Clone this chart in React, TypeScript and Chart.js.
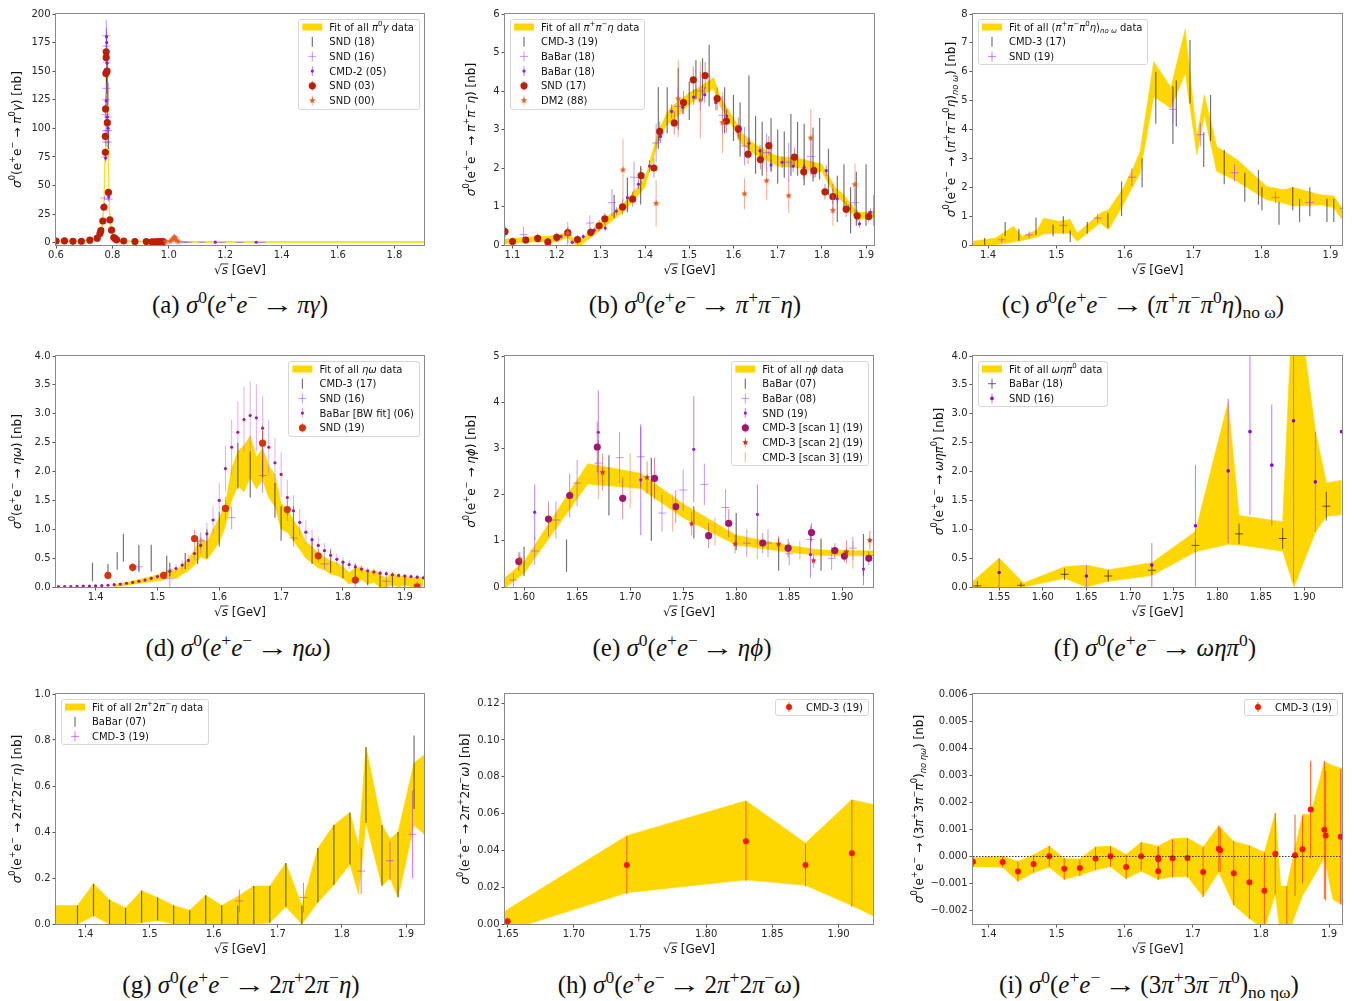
import React, { useEffect, useRef } from 'react';
import { Chart, registerables } from 'chart.js';

Chart.register(...registerables);

type Seg = [string, string];
type Pt = [number, number, number];

const GOLD = '#FFD700';
const SANS = '"DejaVu Sans", sans-serif';
const SERIF = '"Liberation Serif", "DejaVu Serif", serif';

// ---------------- Panel (a): pi0 gamma ----------------
const A_XTICKS = [0.6, 0.8, 1.0, 1.2, 1.4, 1.6, 1.8];
const A_YTICKS = [0, 25, 50, 75, 100, 125, 150, 175, 200];
const A_BAND_X = [0.6, 0.7, 0.74, 0.755, 0.765, 0.77, 0.774, 0.777, 0.779, 0.781, 0.783, 0.785, 0.788, 0.792, 0.797, 0.805, 0.83, 0.87, 0.95, 1.0, 1.012, 1.019, 1.026, 1.035, 1.06, 1.2, 1.905];
const A_BAND_LO = [0.8, 1.2, 3, 7, 15, 30, 70, 115, 138, 140, 110, 75, 38, 18, 9, 3.5, 1.2, 0.6, 0.5, 0.8, 2.5, 4.5, 2, 0.8, 0.4, 0.2, 0.2];
const A_BAND_HI = [1.8, 2.3, 4.5, 9.5, 20, 38, 82, 128, 148, 150, 122, 86, 45, 23, 12, 5, 2.2, 1.5, 1.3, 1.6, 3.5, 6, 3, 1.5, 1.1, 1.0, 1.0];
const A_SND18: Pt[] = [[0.779, 140, 10], [0.781, 150, 10], [0.784, 130, 10], [0.786, 90, 8]];
const A_SND16: Pt[] = [[0.778, 181, 14], [0.779, 172, 8], [0.78, 158, 6], [0.779, 135, 5], [0.777, 125, 5], [0.776, 112, 4], [0.778, 98, 4], [0.777, 88, 4], [0.775, 75, 3], [0.772, 39, 2], [0.787, 38, 2], [0.785, 88, 4], [0.784, 98, 4], [0.783, 110, 4], [0.77, 20, 1.5], [1.05, 0.5, 0.3], [1.055, 0.5, 0.3], [1.071, 0.5, 0.3], [1.116, 0.4, 0.3], [1.187, 0.3, 0.3], [1.251, 0.3, 0.3], [1.33, 0.3, 0.3]];
const A_CMD2: Pt[] = [[0.765, 12, 1], [0.772, 33, 2], [0.776, 74, 3], [0.778, 124, 5], [0.779, 180, 8], [0.78, 175, 8], [0.781, 157, 6], [0.782, 110, 5], [0.785, 100, 5], [0.787, 40, 3], [0.8, 10, 1], [1.165, 0.5, 0.3], [1.31, 0.4, 0.3]];
const A_SND03: Pt[] = [[0.6, 1.5, 0.3], [0.63, 1.6, 0.3], [0.66, 1.2, 0.3], [0.69, 1.3, 0.3], [0.72, 2.2, 0.4], [0.746, 4.0, 0.5], [0.756, 8.0, 0.6], [0.759, 10.5, 0.7], [0.766, 19, 1], [0.77, 31, 1.5], [0.775, 79, 3], [0.775, 93, 3], [0.776, 117, 4], [0.777, 148, 4], [0.778, 162, 5], [0.778, 167, 5], [0.781, 150, 5], [0.782, 105, 4], [0.786, 44, 2], [0.791, 20, 1.2], [0.797, 11, 0.8], [0.805, 4.5, 0.5], [0.81, 3.5, 0.4], [0.815, 2.5, 0.4], [0.84, 1.5, 0.3], [0.88, 1.0, 0.3], [0.92, 1.0, 0.3], [0.94, 0.8, 0.3], [0.95, 0.8, 0.3], [0.96, 0.9, 0.3], [0.97, 1.0, 0.3], [0.98, 0.9, 0.3]];
const A_SND00: Pt[] = [[0.99, 0.9, 0.4], [1.005, 1.2, 0.5], [1.012, 2.5, 0.8], [1.017, 3.8, 1], [1.02, 5, 1.2], [1.023, 4, 1], [1.027, 2, 0.6], [1.033, 1, 0.4]];

// ---------------- Panel (b): pi+ pi- eta ----------------
const B_XTICKS = [1.1, 1.2, 1.3, 1.4, 1.5, 1.6, 1.7, 1.8, 1.9];
const B_YTICKS = [0, 1, 2, 3, 4, 5, 6];
const B_BAND_X = [1.083, 1.1, 1.15, 1.2, 1.215, 1.225, 1.235, 1.245, 1.255, 1.3, 1.35, 1.4, 1.43, 1.45, 1.46, 1.5, 1.53, 1.555, 1.57, 1.6, 1.62, 1.65, 1.7, 1.75, 1.8, 1.83, 1.85, 1.88, 1.9, 1.92];
const B_BAND_LO = [0.03, 0.05, 0.08, 0.08, 0.15, 0.2, 0.05, 0.0, 0.0, 0.4, 0.85, 1.5, 2.7, 3.15, 3.2, 3.65, 3.9, 4.05, 3.6, 3.05, 2.6, 2.35, 2.05, 2.0, 1.9, 1.3, 1.1, 0.65, 0.7, 0.72];
const B_BAND_HI = [0.15, 0.17, 0.22, 0.24, 0.3, 0.35, 0.2, 0.1, 0.15, 0.6, 1.05, 1.75, 2.95, 3.45, 3.6, 3.95, 4.15, 4.35, 3.85, 3.3, 2.9, 2.6, 2.3, 2.25, 2.1, 1.5, 1.3, 0.85, 0.85, 0.9];
const B_CMD3: Pt[] = [[1.33, 1.0, 0.3], [1.36, 1.3, 0.45], [1.39, 1.55, 0.5], [1.43, 3.3, 0.8], [1.45, 3.5, 0.6], [1.475, 3.8, 0.8], [1.5, 3.75, 0.5], [1.515, 4.3, 0.5], [1.53, 4.3, 0.55], [1.545, 4.4, 0.8], [1.58, 3.5, 0.6], [1.6, 3.3, 0.6], [1.615, 3.0, 0.7], [1.635, 3.4, 1.0], [1.65, 2.6, 0.75], [1.665, 2.5, 0.7], [1.685, 2.6, 0.7], [1.7, 2.3, 0.7], [1.715, 2.35, 0.6], [1.73, 2.6, 0.8], [1.745, 2.5, 0.7], [1.76, 2.35, 0.8], [1.78, 2.35, 0.7], [1.795, 2.5, 0.8], [1.815, 1.9, 0.6], [1.835, 1.2, 0.6], [1.85, 1.5, 0.6], [1.865, 0.9, 0.6], [1.878, 1.2, 0.7], [1.9, 1.3, 0.8], [1.918, 0.9, 0.4]];
const B_BABAR_A: Pt[] = [[1.125, 0.27, 0.2], [1.225, 0.25, 0.2], [1.275, 0.57, 0.2], [1.325, 1.1, 0.35], [1.375, 1.76, 0.4], [1.425, 2.65, 0.5], [1.475, 3.6, 0.5], [1.525, 4.0, 0.5], [1.575, 3.37, 0.5], [1.625, 2.57, 0.5], [1.675, 2.4, 0.5], [1.725, 2.15, 0.5], [1.775, 2.3, 0.5], [1.825, 1.2, 0.4], [1.875, 1.1, 0.4], [1.925, 0.95, 0.3]];
const B_BABAR_B: Pt[] = [[1.21, 0.22, 0.06], [1.235, 0.07, 0.05], [1.26, 0.22, 0.06], [1.285, 0.38, 0.07], [1.31, 0.44, 0.08], [1.335, 0.88, 0.1], [1.36, 1.23, 0.12], [1.385, 1.58, 0.13], [1.41, 2.05, 0.15], [1.435, 2.82, 0.17], [1.46, 3.47, 0.18], [1.485, 3.58, 0.18], [1.51, 3.84, 0.2], [1.535, 3.9, 0.2], [1.56, 3.7, 0.2], [1.585, 3.35, 0.18], [1.61, 2.95, 0.17], [1.635, 2.64, 0.16], [1.66, 2.45, 0.15], [1.685, 2.08, 0.15], [1.71, 2.15, 0.15], [1.735, 2.05, 0.15], [1.76, 2.02, 0.15], [1.785, 1.9, 0.14], [1.81, 1.93, 0.14], [1.835, 1.2, 0.12], [1.86, 0.95, 0.1], [1.885, 0.55, 0.1], [1.91, 0.85, 0.1]];
const B_SND17: Pt[] = [[1.083, 0.35, 0.15], [1.1, 0.09, 0.1], [1.13, 0.13, 0.1], [1.157, 0.17, 0.12], [1.18, 0.08, 0.1], [1.2, 0.2, 0.12], [1.225, 0.32, 0.15], [1.247, 0.14, 0.12], [1.277, 0.33, 0.12], [1.296, 0.5, 0.15], [1.309, 0.68, 0.15], [1.349, 0.99, 0.2], [1.372, 1.19, 0.2], [1.391, 1.8, 0.2], [1.42, 2.0, 0.25], [1.433, 2.95, 0.25], [1.466, 3.17, 0.3], [1.487, 3.7, 0.3], [1.509, 4.29, 0.35], [1.536, 4.4, 0.35], [1.563, 3.8, 0.3], [1.584, 3.22, 0.3], [1.611, 3.02, 0.3], [1.633, 2.36, 0.25], [1.661, 2.22, 0.25], [1.68, 2.58, 0.25], [1.738, 2.28, 0.25], [1.759, 1.9, 0.2], [1.782, 1.93, 0.2], [1.807, 1.38, 0.2], [1.825, 1.26, 0.2], [1.855, 0.93, 0.2], [1.88, 0.76, 0.15], [1.906, 0.74, 0.15]];
const B_DM2: Pt[] = [[1.225, 0.3, 0.3], [1.35, 1.95, 0.8], [1.425, 1.08, 0.6], [1.475, 3.8, 1.0], [1.525, 3.77, 1.0], [1.575, 3.18, 0.8], [1.625, 1.33, 0.4], [1.675, 1.67, 0.5], [1.725, 1.28, 0.45], [1.775, 2.78, 0.75], [1.825, 0.9, 0.4], [1.875, 1.57, 0.55], [1.925, 0.2, 0.5]];

// ---------------- Panel (c): (pi+ pi- pi0 eta) no omega ----------------
const C_XTICKS = [1.4, 1.5, 1.6, 1.7, 1.8, 1.9];
const C_YTICKS = [0, 1, 2, 3, 4, 5, 6, 7, 8];
const C_BAND_X = [1.378, 1.411, 1.437, 1.45, 1.472, 1.481, 1.503, 1.52, 1.53, 1.564, 1.576, 1.596, 1.613, 1.622, 1.642, 1.667, 1.688, 1.705, 1.716, 1.734, 1.764, 1.807, 1.832, 1.845, 1.885, 1.905, 1.917];
const C_BAND_LO = [0.0, 0.0, 0.1, 0.16, 0.28, 0.38, 0.41, 0.41, 0.13, 0.76, 0.53, 1.34, 2.09, 2.49, 5.14, 4.74, 5.95, 3.12, 4.5, 2.55, 2.2, 1.57, 1.45, 1.35, 1.39, 1.3, 0.88];
const C_BAND_HI = [0.13, 0.24, 0.65, 0.3, 0.53, 0.93, 0.82, 0.88, 0.41, 1.1, 1.22, 1.91, 2.72, 3.24, 6.35, 5.46, 7.47, 3.76, 5.2, 3.41, 2.95, 2.03, 1.91, 2.0, 1.74, 1.7, 1.28];
const C_CMD3: Pt[] = [[1.395, 0.12, 0.12], [1.425, 0.55, 0.25], [1.445, 0.35, 0.2], [1.47, 0.65, 0.3], [1.495, 0.5, 0.2], [1.51, 0.7, 0.3], [1.52, 0.3, 0.2], [1.545, 0.6, 0.2], [1.575, 0.85, 0.25], [1.595, 1.6, 0.6], [1.625, 2.5, 0.5], [1.645, 5.1, 0.9], [1.67, 4.5, 1.0], [1.675, 4.9, 0.8], [1.695, 6.0, 1.1], [1.715, 3.3, 0.6], [1.725, 4.4, 0.8], [1.745, 2.7, 0.6], [1.775, 2.0, 0.5], [1.795, 2.0, 0.6], [1.8, 1.6, 0.4], [1.825, 1.1, 0.4], [1.845, 1.6, 0.4], [1.855, 1.2, 0.4], [1.87, 1.5, 0.5], [1.895, 1.2, 0.4], [1.905, 1.2, 0.4], [1.92, 1.0, 0.4], [1.93, 0.95, 0.4]];
const C_SND19: Pt[] = [[1.42, 0.18, 0.1], [1.46, 0.35, 0.12], [1.51, 0.68, 0.15], [1.56, 0.93, 0.15], [1.61, 2.35, 0.3], [1.67, 4.7, 0.5], [1.71, 3.82, 0.4], [1.76, 2.5, 0.3], [1.82, 1.65, 0.2], [1.87, 1.47, 0.2], [1.92, 1.27, 0.15]];

// ---------------- Panel (d): eta omega ----------------
const D_XTICKS = [1.4, 1.5, 1.6, 1.7, 1.8, 1.9];
const D_YTICKS = [0, 0.5, 1.0, 1.5, 2.0, 2.5, 3.0, 3.5, 4.0];
const D_BAND_X = [1.43, 1.45, 1.47, 1.49, 1.51, 1.52, 1.53, 1.54, 1.55, 1.56, 1.57, 1.58, 1.59, 1.6, 1.61, 1.62, 1.63, 1.64, 1.65, 1.66, 1.67, 1.68, 1.69, 1.7, 1.71, 1.72, 1.73, 1.74, 1.75, 1.76, 1.77, 1.78, 1.79, 1.8, 1.81, 1.82, 1.83, 1.84, 1.85, 1.86, 1.87, 1.88, 1.89, 1.9, 1.91, 1.92, 1.93];
const D_BAND_LO = [0.0, 0.03, 0.06, 0.09, 0.12, 0.18, 0.14, 0.22, 0.28, 0.38, 0.52, 0.48, 0.62, 0.78, 1.05, 1.5, 1.75, 1.65, 1.9, 1.7, 1.85, 1.55, 1.4, 1.0, 0.95, 0.8, 0.65, 0.5, 0.42, 0.33, 0.3, 0.22, 0.2, 0.15, 0.05, 0.1, 0.13, 0.05, 0.08, 0.0, 0.0, 0.04, 0.0, 0.04, 0.0, 0.04, 0.02];
const D_BAND_HI = [0.04, 0.08, 0.13, 0.18, 0.24, 0.32, 0.28, 0.38, 0.48, 0.65, 0.85, 0.78, 1.0, 1.2, 1.45, 2.05, 2.35, 2.45, 2.62, 2.25, 2.4, 2.1, 1.95, 1.45, 1.35, 1.15, 1.0, 0.78, 0.7, 0.58, 0.52, 0.45, 0.42, 0.35, 0.25, 0.33, 0.35, 0.25, 0.3, 0.22, 0.15, 0.25, 0.18, 0.2, 0.15, 0.18, 0.15];
const D_CMD3: Pt[] = [[1.395, 0.26, 0.16], [1.42, 0.3, 0.1], [1.435, 0.45, 0.15], [1.445, 0.68, 0.24], [1.47, 0.5, 0.23], [1.49, 0.5, 0.23], [1.515, 0.38, 0.16], [1.52, 0.3, 0.12], [1.545, 0.45, 0.14], [1.565, 0.6, 0.2], [1.58, 0.75, 0.25], [1.6, 1.0, 0.3], [1.63, 2.1, 0.4], [1.65, 1.95, 0.4], [1.67, 2.3, 0.4], [1.69, 1.5, 0.3], [1.7, 1.1, 0.3], [1.72, 1.1, 0.3], [1.75, 0.6, 0.2], [1.78, 0.45, 0.2], [1.8, 0.3, 0.15], [1.82, 0.25, 0.15], [1.84, 0.15, 0.12], [1.86, 0.1, 0.1], [1.88, 0.1, 0.1], [1.9, 0.1, 0.1]];
const D_SND16: Pt[] = [[1.47, 0.35, 0.1], [1.52, 0.15, 0.15], [1.57, 0.8, 0.15], [1.62, 1.2, 0.2], [1.67, 1.93, 0.3], [1.72, 0.85, 0.15], [1.77, 0.4, 0.1], [1.82, 0.1, 0.1], [1.87, 0.1, 0.1], [1.92, 0.05, 0.05]];
const D_BABAR: Pt[] = [[1.34, 0.005, 0.002], [1.35, 0.007, 0.002], [1.36, 0.009, 0.003], [1.37, 0.011, 0.003], [1.38, 0.014, 0.004], [1.39, 0.017, 0.005], [1.4, 0.02, 0.006], [1.41, 0.025, 0.007], [1.42, 0.03, 0.008], [1.43, 0.04, 0.01], [1.44, 0.05, 0.012], [1.45, 0.065, 0.015], [1.46, 0.08, 0.02], [1.47, 0.1, 0.025], [1.48, 0.12, 0.03], [1.49, 0.15, 0.035], [1.5, 0.18, 0.04], [1.51, 0.22, 0.05], [1.52, 0.27, 0.06], [1.53, 0.32, 0.07], [1.54, 0.38, 0.08], [1.55, 0.46, 0.1], [1.56, 0.58, 0.12], [1.57, 0.72, 0.15], [1.58, 0.92, 0.19], [1.59, 1.16, 0.24], [1.6, 1.5, 0.3], [1.61, 2.05, 0.4], [1.62, 2.42, 0.48], [1.63, 2.68, 0.53], [1.64, 2.9, 0.57], [1.65, 2.97, 0.59], [1.66, 2.93, 0.58], [1.67, 2.75, 0.55], [1.68, 2.42, 0.48], [1.69, 2.15, 0.43], [1.7, 1.95, 0.39], [1.71, 1.55, 0.31], [1.72, 1.32, 0.27], [1.73, 1.12, 0.23], [1.74, 0.95, 0.2], [1.75, 0.82, 0.17], [1.76, 0.72, 0.15], [1.77, 0.63, 0.13], [1.78, 0.55, 0.12], [1.79, 0.48, 0.1], [1.8, 0.43, 0.09], [1.81, 0.39, 0.08], [1.82, 0.35, 0.07], [1.83, 0.31, 0.07], [1.84, 0.28, 0.06], [1.85, 0.26, 0.06], [1.86, 0.24, 0.05], [1.87, 0.23, 0.05], [1.88, 0.21, 0.05], [1.89, 0.2, 0.04], [1.9, 0.19, 0.04], [1.91, 0.18, 0.04], [1.92, 0.17, 0.04], [1.93, 0.16, 0.04]];
const D_SND19: Pt[] = [[1.42, 0.2, 0.07], [1.46, 0.34, 0.08], [1.51, 0.2, 0.06], [1.56, 0.84, 0.15], [1.61, 1.36, 0.2], [1.67, 2.49, 0.3], [1.71, 1.34, 0.2], [1.76, 0.54, 0.12], [1.82, 0.12, 0.06], [1.92, 0.0, 0.05]];

// ---------------- Panel (e): eta phi ----------------
const E_XTICKS = [1.6, 1.65, 1.7, 1.75, 1.8, 1.85, 1.9];
const E_YTICKS = [0, 1, 2, 3, 4, 5];
const E_BAND_X = [1.582, 1.6, 1.66, 1.71, 1.75, 1.8, 1.85, 1.88, 1.929];
const E_BAND_LO = [-0.02, 0.3, 2.23, 2.13, 1.5, 0.91, 0.75, 0.68, 0.68];
const E_BAND_HI = [0.2, 0.55, 2.67, 2.46, 1.8, 1.12, 0.9, 0.8, 0.78];
const E_BABAR07: Pt[] = [[1.6, 0.55, 0.32], [1.64, 0.68, 0.35], [1.68, 2.2, 0.65], [1.72, 1.9, 0.9], [1.76, 1.4, 0.35], [1.8, 1.2, 0.4], [1.84, 0.7, 0.35], [1.88, 0.7, 0.35], [1.92, 0.7, 0.45]];
const E_BABAR08: Pt[] = [[1.59, 0.15, 0.15], [1.61, 0.78, 0.3], [1.63, 1.45, 0.4], [1.65, 2.25, 0.5], [1.67, 2.68, 0.5], [1.69, 2.8, 0.55], [1.71, 2.82, 0.65], [1.73, 1.6, 0.4], [1.75, 2.1, 0.45], [1.77, 2.22, 0.45], [1.79, 1.72, 0.4], [1.81, 0.95, 0.3], [1.83, 0.95, 0.3], [1.85, 0.72, 0.25], [1.87, 1.03, 0.3], [1.89, 0.62, 0.25], [1.91, 0.84, 0.25], [1.93, 0.68, 0.25]];
const E_SND19: Pt[] = [[1.61, 1.62, 0.6], [1.67, 3.35, 0.9], [1.71, 2.32, 1.2], [1.76, 2.98, 1.15], [1.82, 1.57, 0.65], [1.87, 0.7, 0.5], [1.92, 0.39, 0.35]];
const E_SCAN1: Pt[] = [[1.595, 0.55, 0.2], [1.623, 1.47, 0.38], [1.643, 1.98, 0.47], [1.669, 3.03, 0.55], [1.693, 1.92, 0.45], [1.723, 2.35, 0.45], [1.743, 1.74, 0.35], [1.774, 1.11, 0.27], [1.793, 1.38, 0.3], [1.825, 0.95, 0.22], [1.849, 0.84, 0.2], [1.871, 1.18, 0.2], [1.893, 0.79, 0.16], [1.902, 0.67, 0.13], [1.925, 0.62, 0.15]];
const E_SCAN2: Pt[] = [[1.596, 0.6, 0.15], [1.674, 2.48, 0.4], [1.716, 2.37, 0.35], [1.758, 1.37, 0.25], [1.799, 0.93, 0.2], [1.84, 0.93, 0.18], [1.873, 0.57, 0.15], [1.904, 0.76, 0.25], [1.926, 1.01, 0.2]];
const E_SCAN3: Pt[] = [[1.67, 2.4, 0.5], [1.7, 2.3, 0.6], [1.74, 1.6, 0.4], [1.76, 1.4, 0.3], [1.78, 1.2, 0.3], [1.82, 1.0, 0.4], [1.86, 0.8, 0.2], [1.88, 0.8, 0.2], [1.91, 0.7, 0.3]];

// ---------------- Panel (f): omega eta pi0 ----------------
const F_XTICKS = [1.55, 1.6, 1.65, 1.7, 1.75, 1.8, 1.85, 1.9];
const F_YTICKS = [0, 0.5, 1.0, 1.5, 2.0, 2.5, 3.0, 3.5, 4.0];
const F_BAND_X = [1.52, 1.55, 1.578, 1.625, 1.65, 1.675, 1.725, 1.775, 1.8125, 1.825, 1.875, 1.888, 1.9125, 1.925, 1.9425];
const F_BAND_LO = [0.0, 0.0, 0.0, 0.15, 0.0, 0.1, 0.2, 0.61, 0.74, 0.73, 0.62, 0.0, 0.95, 1.22, 1.25];
const F_BAND_HI = [0.1, 0.5, 0.07, 0.35, 0.38, 0.3, 0.42, 0.96, 3.2, 1.24, 1.13, 5.5, 2.7, 1.8, 1.85];
const F_BABAR18: Pt[] = [[1.525, 0.02, 0.08], [1.575, 0.03, 0.05], [1.625, 0.22, 0.1], [1.675, 0.19, 0.1], [1.725, 0.29, 0.08], [1.775, 0.72, 0.12], [1.825, 0.92, 0.18], [1.875, 0.84, 0.18], [1.925, 1.4, 0.25]];
const F_SND16: Pt[] = [[1.55, 0.25, 0.25], [1.65, 0.19, 0.19], [1.725, 0.38, 0.38], [1.775, 1.06, 1.05], [1.8125, 2.01, 1.25], [1.8375, 2.69, 1.45], [1.8625, 2.11, 1.05], [1.8875, 2.88, 2.8], [1.9125, 1.82, 0.87], [1.9425, 2.69, 0.0]];

// ---------------- Panel (g): 2pi+ 2pi- eta ----------------
const G_XTICKS = [1.4, 1.5, 1.6, 1.7, 1.8, 1.9];
const G_YTICKS = [0, 0.2, 0.4, 0.6, 0.8, 1.0];
const G_BAND_X = [1.354, 1.3875, 1.4125, 1.4375, 1.4625, 1.4875, 1.5125, 1.5375, 1.5625, 1.5875, 1.6125, 1.6375, 1.6625, 1.6875, 1.7125, 1.7375, 1.7625, 1.7875, 1.8125, 1.826, 1.8375, 1.8625, 1.875, 1.8875, 1.9125, 1.928];
const G_BAND_LO = [0.0, 0.0, 0.035, 0.0, 0.0, 0.005, 0.015, 0.0, 0.0, 0.0, 0.0, 0.0, 0.0, 0.005, 0.075, 0.0, 0.095, 0.17, 0.26, 0.13, 0.44, 0.165, 0.2, 0.115, 0.43, 0.39];
const G_BAND_HI = [0.08, 0.08, 0.175, 0.105, 0.07, 0.145, 0.115, 0.08, 0.06, 0.125, 0.08, 0.12, 0.165, 0.165, 0.265, 0.08, 0.33, 0.43, 0.485, 0.34, 0.77, 0.43, 0.37, 0.4, 0.7, 0.735];
const G_BABAR07: Pt[] = [[1.3875, 0.04, 0.04], [1.4125, 0.105, 0.07], [1.4375, 0.052, 0.053], [1.4625, 0.035, 0.035], [1.4875, 0.075, 0.07], [1.5125, 0.065, 0.05], [1.5375, 0.04, 0.04], [1.5625, 0.03, 0.03], [1.5875, 0.062, 0.063], [1.6125, 0.04, 0.04], [1.6375, 0.04, 0.04], [1.6625, 0.082, 0.083], [1.6875, 0.085, 0.08], [1.7125, 0.17, 0.095], [1.7375, 0.04, 0.04], [1.7625, 0.212, 0.118], [1.7875, 0.3, 0.13], [1.8125, 0.372, 0.113], [1.8375, 0.605, 0.165], [1.8625, 0.298, 0.132], [1.8875, 0.258, 0.142], [1.9125, 0.66, 0.16]];
const G_CMD3: Pt[] = [[1.64, 0.1, 0.05], [1.74, 0.115, 0.065], [1.83, 0.23, 0.1], [1.875, 0.275, 0.085], [1.91, 0.39, 0.19]];

// ---------------- Panel (h): 2pi+ 2pi- omega ----------------
const H_XTICKS = [1.65, 1.7, 1.75, 1.8, 1.85, 1.9];
const H_YTICKS = [0, 0.02, 0.04, 0.06, 0.08, 0.1, 0.12];
const H_BAND_X = [1.648, 1.74, 1.83, 1.875, 1.91, 1.926];
const H_BAND_LO = [-0.004, 0.017, 0.024, 0.021, 0.01, 0.0045];
const H_BAND_HI = [0.007, 0.048, 0.067, 0.044, 0.0675, 0.065];
const H_CMD3: Pt[] = [[1.65, 0.0015, 0.002], [1.74, 0.032, 0.0155], [1.83, 0.045, 0.0215], [1.875, 0.032, 0.0115], [1.91, 0.0385, 0.029]];

// ---------------- Panel (i): (3pi+ 3pi- pi0) no eta omega ----------------
const I_XTICKS = [1.4, 1.5, 1.6, 1.7, 1.8, 1.9];
const I_YTICKS = [-0.002, -0.001, 0, 0.001, 0.002, 0.003, 0.004, 0.005, 0.006];
const I_BAND_X = [1.377, 1.4205, 1.443, 1.466, 1.489, 1.511, 1.534, 1.557, 1.579, 1.602, 1.624, 1.649, 1.67, 1.692, 1.715, 1.738, 1.76, 1.783, 1.805, 1.821, 1.829, 1.838, 1.861, 1.873, 1.893, 1.906, 1.919];
const I_BAND_LO = [-0.00038, -0.0004, -0.00092, -0.0006, -0.0004, -0.00085, -0.0007, -0.0005, -0.00038, -0.00083, -0.00055, -0.00085, -0.00075, -0.00075, -0.00148, -0.00058, -0.0018, -0.0023, -0.0027, -0.0014, -0.003, -0.003, -0.00145, -0.00095, -0.00005, -0.0016, -0.00178];
const I_BAND_HI = [-0.00005, 0.0, -0.00018, 0.00005, 0.00038, -0.00008, -0.0001, 0.00035, 0.00038, 0.00007, 0.00052, 0.00038, 0.00065, 0.00068, 0.00035, 0.00113, 0.00055, 0.0004, 0.00015, 0.0016, -0.0011, -0.0011, 0.00155, 0.00155, 0.0035, 0.00335, 0.00325];
const I_CMD3: Pt[] = [[1.377, -0.0002, 0.0002], [1.4205, -0.00021, 0.0002], [1.443, -0.00056, 0.00036], [1.466, -0.00028, 0.00032], [1.489, 0.0, 0.00038], [1.511, -0.00046, 0.0004], [1.534, -0.00043, 0.0003], [1.557, -0.00008, 0.00042], [1.579, 0.0, 0.00038], [1.602, -0.00039, 0.00044], [1.624, 0.0, 0.00052], [1.649, -0.00006, 0.00043], [1.649, -0.00055, 0.00032], [1.649, -0.00011, 0.00045], [1.67, -0.00007, 0.0007], [1.692, -0.00006, 0.00072], [1.715, -0.00058, 0.00092], [1.738, 0.00028, 0.00085], [1.74, 0.00023, 0.0008], [1.76, -0.00062, 0.00118], [1.783, -0.00096, 0.00135], [1.805, -0.00127, 0.00142], [1.821, 0.0001, 0.0015], [1.838, -0.0029, 0.0018], [1.85, 0.00004, 0.0015], [1.861, 0.00026, 0.00125], [1.873, 0.00173, 0.0018], [1.893, 0.00098, 0.00255], [1.895, 0.00077, 0.0024], [1.917, 0.00072, 0.0025]];

// ---------------- styling ----------------
interface Series { name: Seg[]; pts: Pt[]; kind: string; color: string; ecolor: string; lw: number; size: number }
interface Band { x: number[]; lo: number[]; hi: number[]; name?: Seg[] }
interface Panel {
  id: string; left: number; top: number; w: number; h: number; area: number[];
  xr: number[]; yr: number[]; xticks: number[]; yticks: number[]; xdec: number; ydec: number;
  ylabel: Seg[]; ylabX: number; band: Band; series: Series[]; legend: string;
  caption: Seg[]; capX: number; capY: number; zero?: boolean;
}

const BLACK_BAR = 'rgba(0,0,0,0.55)';
const PURPLE_PLUS = 'rgba(140,70,240,0.55)';
const PURPLE_DOT = '#8a1ee6';
const RED_C = '#b8200c';
const ORANGE_S = '#e0602a';
const ORANGE_E = 'rgba(230,110,60,0.55)';

function bar(name: Seg[], pts: Pt[], ecolor = BLACK_BAR, lw = 1.2): Series { return { name, pts, kind: 'bar', color: ecolor, ecolor, lw, size: 0 }; }
function plus(name: Seg[], pts: Pt[], ecolor = PURPLE_PLUS, size = 4): Series { return { name, pts, kind: 'plus', color: ecolor, ecolor, lw: 1, size }; }
function dot(name: Seg[], pts: Pt[], color = PURPLE_DOT, ecolor = 'rgba(138,43,226,0.6)', size = 1.6): Series { return { name, pts, kind: 'dot', color, ecolor, lw: 1, size }; }
function circ(name: Seg[], pts: Pt[], color = RED_C, ecolor = 'rgba(184,32,12,0.5)', size = 3.6): Series { return { name, pts, kind: 'circle', color, ecolor, lw: 1, size }; }
function star(name: Seg[], pts: Pt[], color = ORANGE_S, ecolor = ORANGE_E, size = 3.5): Series { return { name, pts, kind: 'star', color, ecolor, lw: 1, size }; }

const T = (s: string): Seg[] => [[s, '']];
const SIG: Seg[] = [['σ', 'i'], ['0', 'u'], ['(e', ''], ['+', 'u'], ['e', ''], ['−', 'u'], [' → ', '']];
const NB: Seg[] = [[') [nb]', '']];
const ylab = (mid: Seg[]): Seg[] => [...SIG, ...mid, ...NB];
const fit = (mid: Seg[]): Seg[] => [['Fit of all ', ''], ...mid, [' data', '']];
const CAPSIG: Seg[] = [['σ', 'i'], ['0', 'u'], ['(', ''], ['e', 'i'], ['+', 'u'], ['e', 'i'], ['−', 'u'], ['→', 'a']];
const cap = (tag: string, mid: Seg[]): Seg[] => [[`(${tag}) `, ''], ...CAPSIG, ...mid, [')', '']];

const M_PI0G: Seg[] = [['π', 'i'], ['0', 'u'], ['γ', 'i']];
const M_PPE: Seg[] = [['π', 'i'], ['+', 'u'], ['π', 'i'], ['−', 'u'], ['η', 'i']];
const M_4PE: Seg[] = [['(', ''], ['π', 'i'], ['+', 'u'], ['π', 'i'], ['−', 'u'], ['π', 'i'], ['0', 'u'], ['η', 'i'], [')', ''], ['no ω', 'di']];
const M_EW: Seg[] = [['ηω', 'i']];
const M_EP: Seg[] = [['ηϕ', 'i']];
const M_WEP: Seg[] = [['ωηπ', 'i'], ['0', 'u']];
const M_2P2PE: Seg[] = [['2', ''], ['π', 'i'], ['+', 'u'], ['2', ''], ['π', 'i'], ['−', 'u'], ['η', 'i']];
const M_2P2PW: Seg[] = [['2', ''], ['π', 'i'], ['+', 'u'], ['2', ''], ['π', 'i'], ['−', 'u'], ['ω', 'i']];
const M_7P: Seg[] = [['(3', ''], ['π', 'i'], ['+', 'u'], ['3', ''], ['π', 'i'], ['−', 'u'], ['π', 'i'], ['0', 'u'], [')', ''], ['no ηω', 'di']];

const RED_PT = '#ff1500';
const RED_ERR = '#ff5a1e';

const PANELS: Panel[] = [
  {
    id: 'a', left: 0, top: 0, w: 450, h: 280, area: [56, 424, 14, 245], xr: [0.6, 1.905], yr: [-2, 200],
    xticks: A_XTICKS, yticks: A_YTICKS, xdec: 1, ydec: 0, ylabel: ylab(M_PI0G), ylabX: 16,
    band: { x: A_BAND_X, lo: A_BAND_LO, hi: A_BAND_HI, name: fit(M_PI0G) },
    series: [bar(T('SND (18)'), A_SND18), plus(T('SND (16)'), A_SND16), dot(T('CMD-2 (05)'), A_CMD2), circ(T('SND (03)'), A_SND03), star(T('SND (00)'), A_SND00)],
    legend: 'ur', caption: cap('a', [['πγ', 'i']]), capX: 240, capY: 305,
  },
  {
    id: 'b', left: 450, top: 0, w: 450, h: 280, area: [55, 424, 14, 245], xr: [1.083, 1.918], yr: [0, 6],
    xticks: B_XTICKS, yticks: B_YTICKS, xdec: 1, ydec: 0, ylabel: ylab(M_PPE), ylabX: 20,
    band: { x: B_BAND_X, lo: B_BAND_LO, hi: B_BAND_HI, name: fit(M_PPE) },
    series: [bar(T('CMD-3 (19)'), B_CMD3), plus(T('BaBar (18)'), B_BABAR_A), dot(T('BaBar (18)'), B_BABAR_B), circ(T('SND (17)'), B_SND17), star(T('DM2 (88)'), B_DM2)],
    legend: 'ul', caption: cap('b', M_PPE), capX: 695, capY: 305,
  },
  {
    id: 'c', left: 900, top: 0, w: 454, h: 280, area: [73, 442, 14, 245], xr: [1.378, 1.917], yr: [0, 8],
    xticks: C_XTICKS, yticks: C_YTICKS, xdec: 1, ydec: 0, ylabel: ylab(M_4PE), ylabX: 50,
    band: { x: C_BAND_X, lo: C_BAND_LO, hi: C_BAND_HI, name: fit(M_4PE) },
    series: [bar(T('CMD-3 (17)'), C_CMD3), plus(T('SND (19)'), C_SND19, 'rgba(190,70,230,0.7)', 4)],
    legend: 'ul', caption: cap('c', M_4PE), capX: 1143, capY: 305,
  },
  {
    id: 'd', left: 0, top: 340, w: 450, h: 280, area: [56, 424, 16, 247], xr: [1.336, 1.931], yr: [0, 4],
    xticks: D_XTICKS, yticks: D_YTICKS, xdec: 1, ydec: 1, ylabel: ylab(M_EW), ylabX: 16,
    band: { x: D_BAND_X, lo: D_BAND_LO, hi: D_BAND_HI, name: fit(M_EW) },
    series: [bar(T('CMD-3 (17)'), D_CMD3), plus(T('SND (16)'), D_SND16), dot(T('BaBar [BW fit] (06)'), D_BABAR, '#a0189a', 'rgba(200,110,220,0.55)', 1.6), circ(T('SND (19)'), D_SND19, '#d2350f', 'rgba(220,80,30,0.5)', 3.6)],
    legend: 'ur', caption: cap('d', M_EW), capX: 238, capY: 648,
  },
  {
    id: 'e', left: 450, top: 340, w: 450, h: 280, area: [55, 423, 16, 247], xr: [1.582, 1.929], yr: [0, 5],
    xticks: E_XTICKS, yticks: E_YTICKS, xdec: 2, ydec: 0, ylabel: ylab(M_EP), ylabX: 20,
    band: { x: E_BAND_X, lo: E_BAND_LO, hi: E_BAND_HI, name: fit(M_EP) },
    series: [bar(T('BaBar (07)'), E_BABAR07), plus(T('BaBar (08)'), E_BABAR08), dot(T('SND (19)'), E_SND19), circ(T('CMD-3 [scan 1] (19)'), E_SCAN1, '#a0186a', 'rgba(160,24,106,0.5)', 3.6), star(T('CMD-3 [scan 2] (19)'), E_SCAN2, '#c8321a', 'rgba(200,50,26,0.5)', 3.2), bar(T('CMD-3 [scan 3] (19)'), E_SCAN3, 'rgba(240,150,90,0.6)', 1.2)],
    legend: 'ur', caption: cap('e', M_EP), capX: 682, capY: 648,
  },
  {
    id: 'f', left: 900, top: 340, w: 454, h: 280, area: [73, 442, 16, 247], xr: [1.52, 1.943], yr: [0, 4],
    xticks: F_XTICKS, yticks: F_YTICKS, xdec: 2, ydec: 1, ylabel: ylab(M_WEP), ylabX: 38,
    band: { x: F_BAND_X, lo: F_BAND_LO, hi: F_BAND_HI, name: fit(M_WEP) },
    series: [plus(T('BaBar (18)'), F_BABAR18, 'rgba(0,0,0,0.6)', 4), dot(T('SND (16)'), F_SND16, '#8a00e6', 'rgba(170,80,230,0.75)', 1.8)],
    legend: 'ul', caption: cap('f', M_WEP), capX: 1155, capY: 648,
  },
  {
    id: 'g', left: 0, top: 680, w: 450, h: 280, area: [56, 424, 14, 244], xr: [1.354, 1.928], yr: [0, 1],
    xticks: G_XTICKS, yticks: G_YTICKS, xdec: 1, ydec: 1, ylabel: ylab(M_2P2PE), ylabX: 16,
    band: { x: G_BAND_X, lo: G_BAND_LO, hi: G_BAND_HI, name: fit(M_2P2PE) },
    series: [bar(T('BaBar (07)'), G_BABAR07), plus(T('CMD-3 (19)'), G_CMD3, 'rgba(190,70,230,0.7)', 4)],
    legend: 'ul', caption: cap('g', M_2P2PE), capX: 241, capY: 985,
  },
  {
    id: 'h', left: 450, top: 680, w: 450, h: 280, area: [55, 423, 14, 244], xr: [1.648, 1.926], yr: [0, 0.125],
    xticks: H_XTICKS, yticks: H_YTICKS, xdec: 2, ydec: 2, ylabel: ylab(M_2P2PW), ylabX: 14,
    band: { x: H_BAND_X, lo: H_BAND_LO, hi: H_BAND_HI },
    series: [dot(T('CMD-3 (19)'), H_CMD3, RED_PT, RED_ERR, 3)],
    legend: 'ur', caption: cap('h', M_2P2PW), capX: 679, capY: 985,
  },
  {
    id: 'i', left: 900, top: 680, w: 454, h: 280, area: [73, 442, 14, 244], xr: [1.377, 1.919], yr: [-0.0025, 0.006],
    xticks: I_XTICKS, yticks: I_YTICKS, xdec: 1, ydec: 3, ylabel: ylab(M_7P), ylabX: 18,
    band: { x: I_BAND_X, lo: I_BAND_LO, hi: I_BAND_HI },
    series: [dot(T('CMD-3 (19)'), I_CMD3, RED_PT, RED_ERR, 3)],
    legend: 'ur', caption: cap('i', M_7P), capX: 1149, capY: 985, zero: true,
  },
];

const XLAB: Seg[] = [['√', ''], ['s', 'io'], [' [GeV]', '']];

// ---------------- rich text helpers ----------------
function segFont(st: string, size: number) {
  const small = st.includes('u') || st.includes('d');
  const s = small ? size * 0.7 : size;
  return `${st.includes('i') ? 'italic ' : ''}${s}px ${SANS}`;
}
function richWidth(ctx: CanvasRenderingContext2D, segs: Seg[], size: number) {
  let w = 0;
  for (const [t, st] of segs) { ctx.font = segFont(st, size); w += ctx.measureText(t).width; }
  return w;
}
function drawRich(ctx: CanvasRenderingContext2D, segs: Seg[], x: number, y: number, size: number, align: string, color: string) {
  const total = richWidth(ctx, segs, size);
  let cx = align === 'center' ? x - total / 2 : x;
  ctx.fillStyle = color; ctx.textBaseline = 'alphabetic'; ctx.textAlign = 'left';
  for (const [t, st] of segs) {
    ctx.font = segFont(st, size);
    const dy = st.includes('u') ? -size * 0.42 : st.includes('d') ? size * 0.25 : 0;
    ctx.fillText(t, cx, y + dy);
    const w = ctx.measureText(t).width;
    if (st.includes('o')) {
      ctx.strokeStyle = color; ctx.lineWidth = 0.8;
      ctx.beginPath(); ctx.moveTo(cx - 1, y - size * 0.84); ctx.lineTo(cx + w + 0.5, y - size * 0.84); ctx.stroke();
    }
    cx += w;
  }
}

const starCache: Record<string, HTMLCanvasElement> = {};
function starImage(color: string, r: number) {
  const key = color + r;
  if (starCache[key]) return starCache[key];
  const c = document.createElement('canvas');
  const s = Math.ceil(r * 2 + 2);
  c.width = s; c.height = s;
  const g = c.getContext('2d')!;
  g.fillStyle = color; g.beginPath();
  for (let k = 0; k < 10; k++) {
    const rr = k % 2 ? r * 0.45 : r;
    const a = -Math.PI / 2 + (k * Math.PI) / 5;
    const px = s / 2 + rr * Math.cos(a), py = s / 2 + rr * Math.sin(a);
    if (k) g.lineTo(px, py); else g.moveTo(px, py);
  }
  g.closePath(); g.fill();
  starCache[key] = c;
  return c;
}

function drawHandle(ctx: CanvasRenderingContext2D, s: Series, cx: number, cy: number) {
  ctx.strokeStyle = s.ecolor; ctx.lineWidth = s.lw;
  ctx.beginPath(); ctx.moveTo(cx, cy - 5); ctx.lineTo(cx, cy + 5); ctx.stroke();
  if (s.kind === 'plus') {
    ctx.beginPath(); ctx.moveTo(cx - s.size, cy); ctx.lineTo(cx + s.size, cy); ctx.stroke();
  } else if (s.kind === 'dot' || s.kind === 'circle') {
    ctx.fillStyle = s.color; ctx.beginPath(); ctx.arc(cx, cy, s.size, 0, Math.PI * 2); ctx.fill();
  } else if (s.kind === 'star') {
    const img = starImage(s.color, s.size);
    ctx.drawImage(img, cx - img.width / 2, cy - img.height / 2);
  }
}

function fmt(v: number, dec: number) {
  return v.toFixed(dec).replace('-', '−');
}

function makeDeco(p: Panel) {
  return {
    id: 'deco' + p.id,
    beforeDatasetDraw(chart: any, args: any) {
      const ds = chart.data.datasets[args.index];
      if (!ds.errs) return;
      const ctx: CanvasRenderingContext2D = chart.ctx;
      const a = chart.chartArea, xs = chart.scales.x, ys = chart.scales.y;
      ctx.save();
      ctx.beginPath(); ctx.rect(a.left, a.top, a.right - a.left, a.bottom - a.top); ctx.clip();
      ctx.strokeStyle = ds.ecolor; ctx.lineWidth = ds.elw;
      ds.data.forEach((d: any, i: number) => {
        const e = ds.errs[i];
        if (!e) return;
        const px = xs.getPixelForValue(d.x);
        ctx.beginPath();
        ctx.moveTo(px, ys.getPixelForValue(d.y - e));
        ctx.lineTo(px, ys.getPixelForValue(d.y + e));
        ctx.stroke();
      });
      ctx.restore();
    },
    afterDatasetsDraw(chart: any) {
      if (!p.zero) return;
      const ctx: CanvasRenderingContext2D = chart.ctx;
      const a = chart.chartArea, ys = chart.scales.y;
      const y = Math.round(ys.getPixelForValue(0)) + 0.5;
      ctx.save();
      ctx.strokeStyle = '#222'; ctx.lineWidth = 0.9; ctx.setLineDash([1.5, 1.5]);
      ctx.beginPath(); ctx.moveTo(a.left, y); ctx.lineTo(a.right, y); ctx.stroke();
      ctx.restore();
    },
    afterDraw(chart: any) {
      const ctx: CanvasRenderingContext2D = chart.ctx;
      const a = chart.chartArea;
      ctx.save();
      ctx.strokeStyle = '#8a8a8a'; ctx.lineWidth = 1;
      ctx.strokeRect(a.left - 0.5, a.top - 0.5, a.right - a.left + 1, a.bottom - a.top + 1);
      drawRich(ctx, XLAB, (a.left + a.right) / 2, a.bottom + 29, 12, 'center', '#111');
      ctx.save();
      ctx.translate(p.ylabX + 4.5, (a.top + a.bottom) / 2);
      ctx.rotate(-Math.PI / 2);
      drawRich(ctx, p.ylabel, 0, 0, 12, 'center', '#111');
      ctx.restore();
      const entries: { name: Seg[]; s?: Series }[] = [];
      if (p.band.name) entries.push({ name: p.band.name });
      p.series.forEach((s) => entries.push({ name: s.name, s }));
      const fs = 10;
      let tw = 0;
      entries.forEach((e) => { tw = Math.max(tw, richWidth(ctx, e.name, fs)); });
      const rowH = 14.7;
      const bw = 4 + 20 + 7 + tw + 5;
      const bh = 16 + (entries.length - 1) * rowH;
      const bx = p.legend === 'ur' ? a.right - 5 - bw : a.left + 5;
      const by = a.top + 5;
      ctx.fillStyle = 'rgba(255,255,255,0.8)';
      ctx.strokeStyle = '#d6d6d6'; ctx.lineWidth = 1;
      ctx.beginPath();
      (ctx as any).roundRect(Math.round(bx) + 0.5, Math.round(by) + 0.5, Math.round(bw), Math.round(bh), 2.5);
      ctx.fill(); ctx.stroke();
      entries.forEach((e, i) => {
        const cy = by + 8 + i * rowH;
        const hx = bx + 4;
        if (!e.s) {
          ctx.fillStyle = GOLD;
          ctx.fillRect(hx, cy - 3.5, 20, 7);
        } else {
          drawHandle(ctx, e.s, hx + 10, cy);
        }
        drawRich(ctx, e.name, hx + 27, cy + 3.6, fs, 'left', '#111');
      });
      ctx.restore();
    },
  };
}

function buildConfig(p: Panel): any {
  const [L, R, TT, B] = p.area;
  const datasets: any[] = [];
  const n = p.series.length;
  datasets.push({
    type: 'line', data: p.band.x.map((x, i) => ({ x, y: p.band.lo[i] })),
    borderColor: GOLD, borderWidth: 0.6, pointRadius: 0, fill: false, tension: 0, order: 1000,
  });
  datasets.push({
    type: 'line', data: p.band.x.map((x, i) => ({ x, y: p.band.hi[i] })),
    borderColor: GOLD, borderWidth: 0.6, pointRadius: 0, fill: '-1', backgroundColor: GOLD, tension: 0, order: 999,
  });
  p.series.forEach((s, i) => {
    const ds: any = {
      type: 'scatter',
      data: s.pts.map((q) => ({ x: q[0], y: q[1] })),
      errs: s.pts.map((q) => q[2]),
      ecolor: s.ecolor, elw: s.lw,
      order: n - i, pointHoverRadius: 0,
    };
    if (s.kind === 'bar') {
      ds.pointRadius = 0;
    } else if (s.kind === 'plus') {
      ds.pointStyle = 'line'; ds.pointRadius = s.size; ds.pointBorderColor = s.ecolor; ds.pointBorderWidth = 1;
    } else if (s.kind === 'dot' || s.kind === 'circle') {
      ds.pointStyle = 'circle'; ds.pointRadius = s.size; ds.pointBackgroundColor = s.color; ds.pointBorderWidth = 0;
    } else if (s.kind === 'star') {
      ds.pointStyle = starImage(s.color, s.size); ds.pointRadius = s.size;
    }
    datasets.push(ds);
  });
  const tickFont = { family: SANS, size: 10 };
  return {
    type: 'scatter',
    data: { datasets },
    options: {
      animation: false, responsive: false, maintainAspectRatio: false,
      events: [],
      layout: { padding: { left: 0, top: TT, right: p.w - R, bottom: 0 } },
      plugins: { legend: { display: false }, tooltip: { enabled: false }, title: { display: false } },
      scales: {
        x: {
          type: 'linear', min: p.xr[0], max: p.xr[1],
          afterFit: (s: any) => { s.height = p.h - B; },
          afterBuildTicks: (s: any) => { s.ticks = p.xticks.map((v) => ({ value: v })); },
          ticks: { callback: (v: any) => fmt(Number(v), p.xdec), font: tickFont, color: '#262626', padding: 1, autoSkip: false, maxRotation: 0 },
          grid: { display: true, drawOnChartArea: false, drawTicks: true, tickLength: 3.5, color: '#555', tickColor: '#555' },
          border: { display: false },
        },
        y: {
          type: 'linear', min: p.yr[0], max: p.yr[1],
          afterFit: (s: any) => { s.width = L; },
          afterBuildTicks: (s: any) => { s.ticks = p.yticks.map((v) => ({ value: v })); },
          ticks: { callback: (v: any) => fmt(Number(v), p.ydec), font: tickFont, color: '#262626', padding: 2, autoSkip: false },
          grid: { display: true, drawOnChartArea: false, drawTicks: true, tickLength: 3.5, color: '#555', tickColor: '#555' },
          border: { display: false },
        },
      },
    },
    plugins: [makeDeco(p)],
  };
}

function RichHtml({ segs }: { segs: Seg[] }) {
  return (
    <>
      {segs.map(([t, st], i) => {
        const style: any = {};
        if (st.includes('i')) style.fontStyle = 'italic';
        if (st.includes('u')) { style.fontSize = '70%'; style.verticalAlign = '0.6em'; style.lineHeight = 0; }
        if (st.includes('d')) { style.fontSize = '70%'; style.verticalAlign = '-0.3em'; style.lineHeight = 0; style.fontStyle = 'normal'; }
        if (st.includes('a')) { style.margin = '0 0.3em'; style.display = 'inline-block'; style.transform = 'scaleX(1.3)'; }
        return <span key={i} style={style}>{t}</span>;
      })}
    </>
  );
}

function PanelView({ p }: { p: Panel }) {
  const ref = useRef<HTMLCanvasElement | null>(null);
  useEffect(() => {
    if (!ref.current) return;
    const chart = new Chart(ref.current, buildConfig(p));
    return () => chart.destroy();
  }, [p]);
  return (
    <>
      <div style={{ position: 'absolute', left: p.left, top: p.top, width: p.w, height: p.h }}>
        <canvas ref={ref} width={p.w} height={p.h} style={{ width: p.w, height: p.h, display: 'block' }} />
      </div>
      <div
        style={{
          position: 'absolute', left: p.capX - 300, width: 600, top: p.capY - 18, height: 36, lineHeight: '36px',
          textAlign: 'center', fontFamily: SERIF, fontSize: 25, whiteSpace: 'nowrap', color: '#111',
        }}
      >
        <RichHtml segs={p.caption} />
      </div>
    </>
  );
}

export default function App() {
  return (
    <div style={{ position: 'absolute', left: 0, top: 0, width: 1354, height: 1001, background: '#ffffff', overflow: 'hidden' }}>
      {PANELS.map((p) => <PanelView key={p.id} p={p} />)}
    </div>
  );
}
